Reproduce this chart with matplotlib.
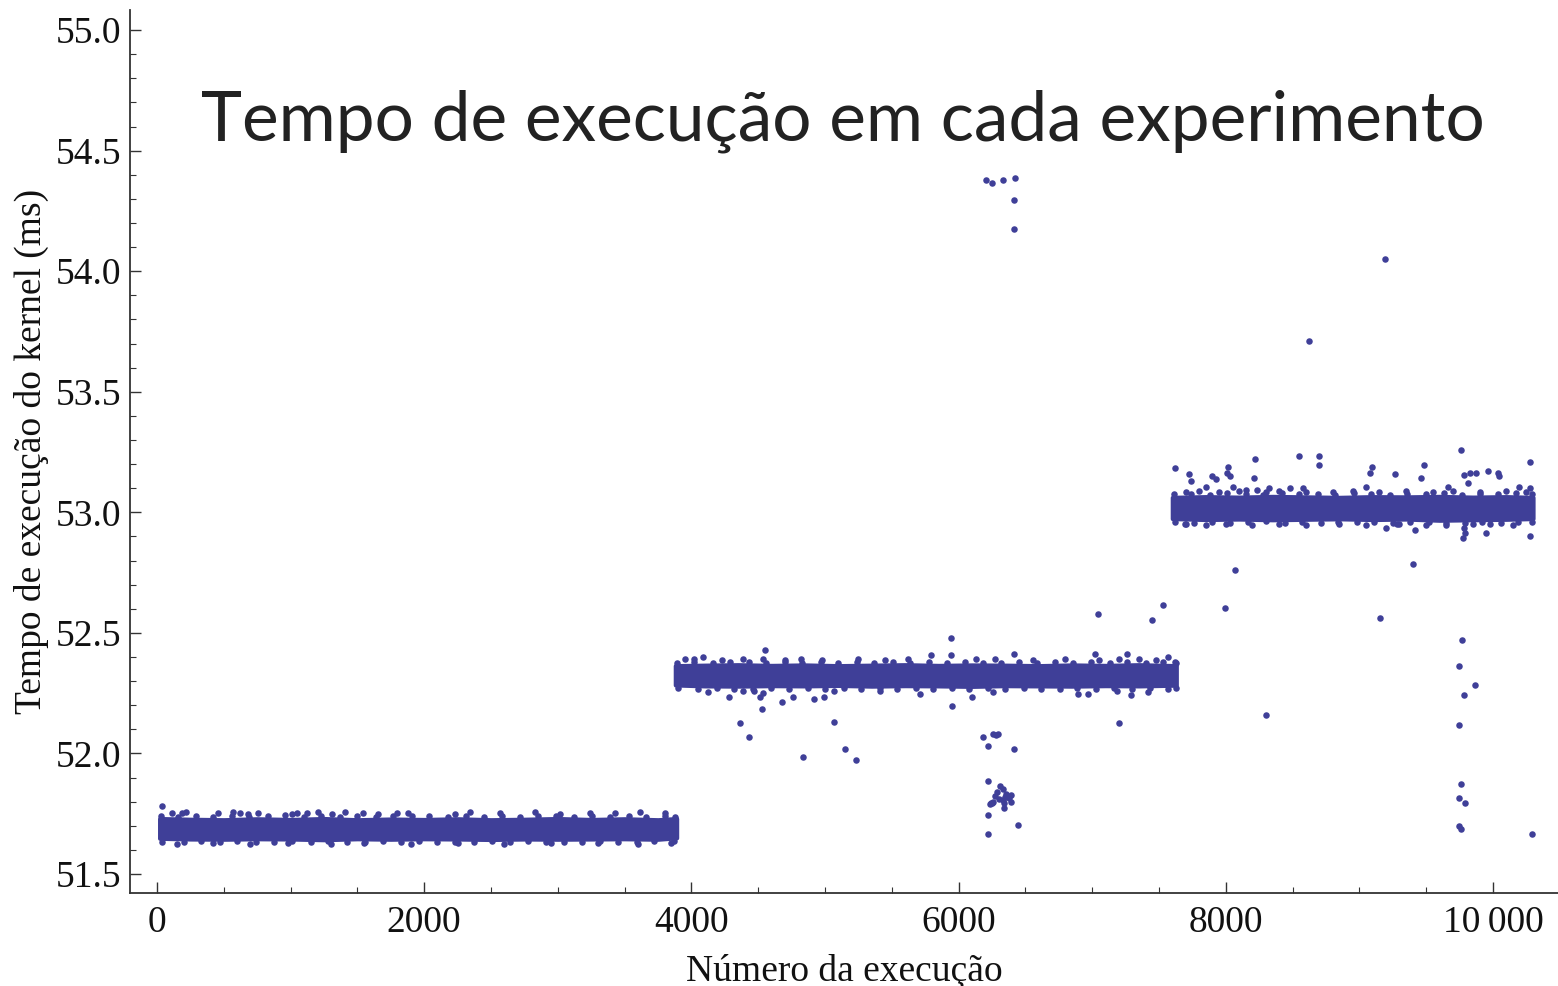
import matplotlib
matplotlib.use("Agg")
import matplotlib.pyplot as plt
from matplotlib.ticker import MultipleLocator, FixedLocator, FixedFormatter

# ---- data -------------------------------------------------------------
# dense bands: outline of each run-time band (upper / lower envelope)
band1_x = [20, 250, 500, 750, 1000, 1250, 1500, 1750, 2000, 2250, 2500, 2750, 3000, 3250, 3500, 3750, 3890]
band1_hi = [51.730, 51.727, 51.725, 51.729, 51.726, 51.730, 51.725, 51.728, 51.726, 51.729, 51.725, 51.727, 51.730, 51.726, 51.729, 51.725, 51.730]
band1_lo = [51.648, 51.645, 51.644, 51.646, 51.645, 51.642, 51.646, 51.644, 51.646, 51.645, 51.643, 51.645, 51.644, 51.645, 51.646, 51.644, 51.650]

band2_x = [3880, 4100, 4350, 4600, 4850, 5100, 5350, 5600, 5850, 6100, 6350, 6600, 6850, 7100, 7350, 7630]
band2_hi = [52.364, 52.366, 52.368, 52.365, 52.367, 52.364, 52.366, 52.368, 52.365, 52.367, 52.366, 52.364, 52.367, 52.365, 52.368, 52.364]
band2_lo = [52.284, 52.280, 52.279, 52.281, 52.280, 52.282, 52.279, 52.281, 52.280, 52.278, 52.281, 52.280, 52.279, 52.281, 52.280, 52.283]

band3_x = [7600, 7850, 8100, 8350, 8600, 8850, 9100, 9350, 9600, 9850, 10100, 10300]
band3_hi = [53.062, 53.065, 53.063, 53.066, 53.064, 53.062, 53.065, 53.064, 53.066, 53.063, 53.065, 53.062]
band3_lo = [52.974, 52.970, 52.972, 52.969, 52.971, 52.973, 52.970, 52.972, 52.967, 52.969, 52.971, 52.974]

# runs sitting on the fringes of the bands
edge_x = [
    # band 1, upper fringe
    30, 160, 290, 420, 560, 690, 830, 960, 1100, 1230, 1370, 1500, 1640, 1770, 1910, 2040, 2180,
    2310, 2450, 2580, 2720, 2850, 2990, 3120, 3260, 3390, 3530, 3660, 3800, 3880,
    # band 1, lower fringe
    40, 200, 330, 470, 600, 740, 880, 1010, 1150, 1280, 1420, 1560, 1690, 1830, 1960, 2100, 2230,
    2370, 2510, 2640, 2780, 2910, 3050, 3180, 3320, 3450, 3590, 3720, 3870,
    # band 2, upper fringe
    3890, 4020, 4160, 4290, 4430, 4560, 4700, 4830, 4970, 5100, 5240, 5370, 5510, 5640, 5780, 5910,
    6050, 6180, 6320, 6450, 6590, 6720, 6860, 6990, 7130, 7260, 7400, 7530, 7625,
    # band 2, lower fringe
    3900, 4050, 4190, 4320, 4460, 4600, 4730, 4870, 5000, 5140, 5270, 5410, 5540, 5680, 5810, 5950,
    6080, 6220, 6350, 6490, 6620, 6760, 6890, 7030, 7160, 7300, 7430, 7570, 7630,
    # band 3, upper fringe
    7610, 7740, 7880, 8010, 8150, 8280, 8420, 8550, 8690, 8820, 8960, 9090, 9230, 9360, 9500, 9630,
    9770, 9900, 10040, 10170, 10290,
    # band 3, lower fringe
    7620, 7760, 7900, 8030, 8170, 8300, 8440, 8570, 8710, 8840, 8980, 9110, 9250, 9380, 9520, 9650,
    9790, 9920, 10060, 10190, 10295,
]
edge_y = [
    51.740, 51.737, 51.742, 51.738, 51.741, 51.736, 51.740, 51.743, 51.737, 51.740, 51.738, 51.742, 51.736, 51.740, 51.739, 51.742, 51.737,
    51.741, 51.738, 51.740, 51.736, 51.742, 51.739, 51.737, 51.741, 51.738, 51.740, 51.737, 51.742, 51.738,
    51.634, 51.632, 51.636, 51.633, 51.635, 51.631, 51.634, 51.636, 51.632, 51.635, 51.633, 51.631, 51.635, 51.633, 51.636, 51.632, 51.634,
    51.632, 51.635, 51.633, 51.636, 51.631, 51.634, 51.633, 51.635, 51.632, 51.634, 51.636, 51.635,
    52.376, 52.379, 52.374, 52.378, 52.381, 52.375, 52.378, 52.376, 52.380, 52.374, 52.378, 52.376, 52.381, 52.375, 52.378, 52.376,
    52.380, 52.374, 52.377, 52.379, 52.375, 52.378, 52.376, 52.380, 52.375, 52.378, 52.376, 52.379, 52.374,
    52.271, 52.268, 52.272, 52.269, 52.266, 52.271, 52.268, 52.270, 52.267, 52.272, 52.269, 52.271, 52.266, 52.270, 52.268, 52.271,
    52.267, 52.270, 52.268, 52.272, 52.269, 52.266, 52.271, 52.268, 52.270, 52.267, 52.271, 52.269, 52.272,
    53.074, 53.077, 53.072, 53.078, 53.075, 53.073, 53.079, 53.074, 53.076, 53.072, 53.078, 53.075, 53.073, 53.077, 53.074, 53.079,
    53.073, 53.076, 53.074, 53.078, 53.075,
    52.960, 52.957, 52.961, 52.956, 52.959, 52.962, 52.957, 52.960, 52.956, 52.961, 52.958, 52.960, 52.956, 52.959, 52.961, 52.957,
    52.955, 52.959, 52.957, 52.961, 52.958,
]

# individual runs lying well outside the dense bands
stray_x = [
    # around band 1
    40, 110, 185, 217, 459, 571, 621, 684, 754, 1008, 1045, 1120, 1207, 1307, 1407,
    1544, 1656, 1794, 1880, 2231, 2343, 2568, 2830, 3017, 3241, 3428, 3615, 3802,
    150, 420, 700, 980, 1300, 1550, 1900, 2250, 2600, 2950, 3300, 3600, 3850,
    # around band 2 (above)
    4090, 4551, 5941, 5941, 5792, 6415, 7021, 7262, 7570, 7620,
    3950, 4020, 4230, 4390, 4540, 4700, 4820, 4980, 5250, 5450, 5620, 6130, 6270,
    6560, 6800, 7050, 7200, 7350, 7480,
    # around band 2 (below)
    4127, 4284, 4389, 4469, 4514, 4539, 4526, 4364, 4434, 4676, 4758, 4918, 4995,
    5068, 5066, 4838, 5150, 5230, 5412, 5711, 5953, 6103, 6261, 6897, 6971, 7289,
    7416, 7203, 7184,
    # group near run 6200-6450
    6181, 6258, 6280, 6295, 6218, 6413,
    6218, 6310, 6331, 6286, 6355,
    6270, 6300, 6330, 6350, 6380, 6395, 6390, 6340, 6260, 6245, 6235, 6250,
    6340, 6218, 6445, 6218,
    6206, 6251, 6331, 6425, 6415, 6415,
    # between bands 2 and 3, and far off band 3
    9192, 8624, 9402, 8069, 7995, 9155, 8299, 7528, 7448, 7046,
    9771, 9748, 9864, 9781, 9748, 9759, 9748, 9794, 9748, 9761, 10290,
    # around band 3 (above)
    7620, 7725, 7738, 7850, 7895, 7925, 8015, 8032, 8007, 8057, 8150, 8219, 8214,
    8232, 8324, 8481, 8551, 8581, 8700, 8700, 9050, 9080, 9093, 9267, 9459, 9484,
    9666, 9759, 9781, 9829, 9874, 9816, 9966, 10036, 10048, 10198, 10278, 10278,
    7700, 7800, 7950, 8100, 8300, 8400, 8600, 8800, 8950, 9150, 9350, 9550, 9700,
    9900, 10100, 10250,
    # around band 3 (below)
    7695, 9198, 9280, 9417, 9774, 9791, 9784, 9946, 9978, 10278,
    7700, 7850, 8000, 8200, 8400, 8600, 8850, 9050, 9300, 9500, 9650, 9850, 10150,
]
stray_y = [
    51.780, 51.752, 51.752, 51.756, 51.752, 51.757, 51.752, 51.750, 51.752, 51.750, 51.752, 51.752, 51.757, 51.750, 51.755,
    51.752, 51.750, 51.754, 51.752, 51.750, 51.755, 51.752, 51.758, 51.750, 51.754, 51.752, 51.756, 51.752,
    51.626, 51.628, 51.625, 51.628, 51.626, 51.629, 51.625, 51.628, 51.626, 51.627, 51.628, 51.626, 51.629,
    52.401, 52.428, 52.477, 52.407, 52.407, 52.414, 52.414, 52.414, 52.400, 52.380,
    52.390, 52.392, 52.388, 52.392, 52.390, 52.388, 52.393, 52.389, 52.391, 52.389, 52.392, 52.390, 52.393,
    52.389, 52.391, 52.388, 52.392, 52.390, 52.389,
    52.253, 52.234, 52.259, 52.259, 52.234, 52.252, 52.183, 52.126, 52.068, 52.214, 52.234, 52.227, 52.234,
    52.259, 52.132, 51.985, 52.018, 51.973, 52.259, 52.248, 52.197, 52.234, 52.255, 52.248, 52.248, 52.241,
    52.255, 52.126, 52.259,
    52.069, 52.081, 52.078, 52.080, 52.031, 52.019,
    51.886, 51.865, 51.853, 51.840, 51.832,
    51.822, 51.812, 51.806, 51.818, 51.815, 51.800, 51.826, 51.795, 51.800, 51.796, 51.790, 51.793,
    51.774, 51.745, 51.704, 51.667,
    54.378, 54.366, 54.378, 54.386, 54.295, 54.175,
    54.050, 53.710, 52.786, 52.762, 52.603, 52.562, 52.158, 52.615, 52.552, 52.578,
    52.470, 52.361, 52.285, 52.241, 52.119, 51.872, 51.815, 51.794, 51.700, 51.687, 51.667,
    53.182, 53.157, 53.130, 53.105, 53.150, 53.137, 53.188, 53.150, 53.162, 53.105, 53.092, 53.220, 53.143,
    53.092, 53.099, 53.099, 53.233, 53.099, 53.233, 53.195, 53.105, 53.162, 53.188, 53.157, 53.143, 53.195,
    53.105, 53.258, 53.156, 53.162, 53.162, 53.123, 53.170, 53.162, 53.150, 53.105, 53.207, 53.099,
    53.085, 53.088, 53.084, 53.087, 53.085, 53.089, 53.084, 53.086, 53.088, 53.085, 53.087, 53.084, 53.088,
    53.085, 53.087, 53.086,
    52.953, 52.934, 52.953, 52.927, 52.895, 52.915, 52.936, 52.915, 52.953, 52.902,
    52.950, 52.948, 52.951, 52.947, 52.950, 52.948, 52.951, 52.947, 52.950, 52.948, 52.949, 52.951, 52.948,
]

title = "Tempo de execução em cada experimento"
xlabel = "Número da execução"
ylabel = "Tempo de execução do kernel (ms)"
xtick_vals = [0, 2000, 4000, 6000, 8000, 10000]
xtick_labels = ["0", "2000", "4000", "6000", "8000", "10\u2009000"]
ytick_vals = [51.5, 52.0, 52.5, 53.0, 53.5, 54.0, 54.5, 55.0]
ytick_labels = ["51.5", "52.0", "52.5", "53.0", "53.5", "54.0", "54.5", "55.0"]

# ---- drawing ----------------------------------------------------------
dot = "#3f3f98"
serif = ["Liberation Serif", "DejaVu Serif"]

fig = plt.figure(figsize=(15.58, 9.86), dpi=100)
ax = fig.add_axes([0.0834, 0.0943, 0.9166, 0.8955])

for bx, hi, lo in ((band1_x, band1_hi, band1_lo),
                   (band2_x, band2_hi, band2_lo),
                   (band3_x, band3_hi, band3_lo)):
    ax.fill_between(bx, lo, hi, color=dot, linewidth=3, edgecolor=dot, zorder=2)

ax.scatter(edge_x, edge_y, s=22, color=dot, linewidths=0, zorder=3)
ax.scatter(stray_x, stray_y, s=22, color=dot, linewidths=0, zorder=3)

ax.set_xlim(-202, 10487)
ax.set_ylim(51.421, 55.083)

for side in ("top", "right"):
    ax.spines[side].set_visible(False)
for side in ("left", "bottom"):
    ax.spines[side].set_color("#333333")
    ax.spines[side].set_linewidth(1.3)

ax.xaxis.set_major_locator(FixedLocator(xtick_vals))
ax.xaxis.set_major_formatter(FixedFormatter(xtick_labels))
ax.xaxis.set_minor_locator(MultipleLocator(500))
ax.yaxis.set_major_locator(FixedLocator(ytick_vals))
ax.yaxis.set_major_formatter(FixedFormatter(ytick_labels))
ax.yaxis.set_minor_locator(MultipleLocator(0.1))

ax.tick_params(which="both", direction="in", color="#333333")
ax.tick_params(which="major", length=8, width=1.0)
ax.tick_params(which="minor", length=4, width=0.8)
ax.tick_params(axis="x", which="major", pad=9)
ax.tick_params(axis="y", which="major", pad=6)
for lab in ax.get_xticklabels() + ax.get_yticklabels():
    lab.set_family(serif)
    lab.set_fontsize(27)
    lab.set_color("#111111")

ax.set_xlabel(xlabel, family=serif, fontsize=27, color="#111111", labelpad=10)
ax.set_ylabel(ylabel, family=serif, fontsize=27, color="#111111", labelpad=5)

fig.text(0.541, 0.858, title, family=["Lato", "DejaVu Sans"], fontsize=50,
         color="#222222", ha="center", va="baseline")

fig.savefig("out.png", dpi=100, facecolor="white")
